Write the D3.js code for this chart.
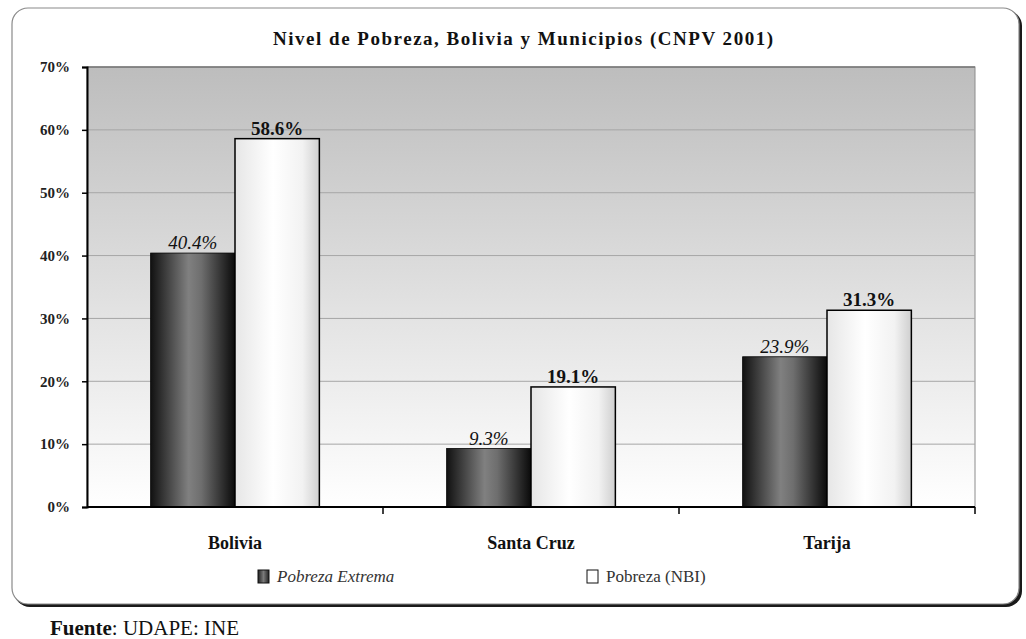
<!DOCTYPE html>
<html>
<head>
<meta charset="utf-8">
<script src="https://cdn.jsdelivr.net/npm/d3@7"></script>
<style>
  html, body { margin: 0; padding: 0; background: #ffffff; }
  svg { display: block; }
  svg text { font-family: "Liberation Serif", "DejaVu Serif", serif !important; fill: #111; }
</style>
</head>
<body>
<svg id="chart" width="1026" height="639"></svg>
<script>
// Poverty levels by territory (CNPV 2001)
const categories = ["Bolivia", "Santa Cruz", "Tarija"];
const seriesNames = ["Pobreza Extrema", "Pobreza (NBI)"];
const pobrezaExtrema = [40.4, 9.3, 23.9];
const pobrezaNBI = [58.6, 19.1, 31.3];
const yTicks = [0, 10, 20, 30, 40, 50, 60, 70];
const titleText = "Nivel de Pobreza, Bolivia y Municipios (CNPV 2001)";
const sourceBold = "Fuente";
const sourceRest = ": UDAPE: INE";

const svg = d3.select("#chart");
const defs = svg.append("defs");

// Gradients: plot background, dark bars, light bars
const bg = defs.append("linearGradient").attr("id", "bgGrad")
  .attr("x1", 0).attr("y1", 0).attr("x2", 0).attr("y2", 1);
bg.append("stop").attr("offset", "0%").attr("stop-color", "#bdbdbd");
bg.append("stop").attr("offset", "55%").attr("stop-color", "#e2e2e2");
bg.append("stop").attr("offset", "100%").attr("stop-color", "#ffffff");

const dg = defs.append("linearGradient").attr("id", "darkGrad")
  .attr("x1", 0).attr("y1", 0).attr("x2", 1).attr("y2", 0);
dg.append("stop").attr("offset", "0%").attr("stop-color", "#111111");
dg.append("stop").attr("offset", "45%").attr("stop-color", "#808080");
dg.append("stop").attr("offset", "60%").attr("stop-color", "#6e6e6e");
dg.append("stop").attr("offset", "100%").attr("stop-color", "#0a0a0a");

const lg = defs.append("linearGradient").attr("id", "lightGrad")
  .attr("x1", 0).attr("y1", 0).attr("x2", 1).attr("y2", 0);
lg.append("stop").attr("offset", "0%").attr("stop-color", "#e6e6e6");
lg.append("stop").attr("offset", "45%").attr("stop-color", "#ffffff");
lg.append("stop").attr("offset", "80%").attr("stop-color", "#f2f2f2");
lg.append("stop").attr("offset", "100%").attr("stop-color", "#cfcfcf");

const sq = defs.append("linearGradient").attr("id", "legDark")
  .attr("x1", 0).attr("y1", 0).attr("x2", 1).attr("y2", 0);
sq.append("stop").attr("offset", "0%").attr("stop-color", "#222");
sq.append("stop").attr("offset", "50%").attr("stop-color", "#7a7a7a");
sq.append("stop").attr("offset", "100%").attr("stop-color", "#222");

// Chart frame with a dark drop shadow on the bottom/right
svg.append("rect").attr("x", 14).attr("y", 10).attr("width", 1008).attr("height", 597)
  .attr("rx", 16).attr("fill", "#1a1a1a");
svg.append("rect").attr("x", 12).attr("y", 8).attr("width", 1007).attr("height", 596)
  .attr("rx", 16).attr("fill", "#ffffff").attr("stroke", "#8a8a8a").attr("stroke-width", 1.2);

const margin = { left: 87, top: 67, right: 975, bottom: 507 };

const x0 = d3.scaleBand().domain(categories).range([margin.left, margin.right])
  .paddingInner(0.43).paddingOuter(0.215);
const x1 = d3.scaleBand().domain(seriesNames).range([0, x0.bandwidth()]);
const y = d3.scaleLinear().domain([0, 70]).range([margin.bottom, margin.top]);

// Plot area
svg.append("rect").attr("x", margin.left).attr("y", margin.top)
  .attr("width", margin.right - margin.left).attr("height", margin.bottom - margin.top)
  .attr("fill", "url(#bgGrad)").attr("stroke", "#8c8c8c").attr("stroke-width", 1);

// Gridlines
svg.append("g").selectAll("line").data(yTicks.filter(d => d > 0)).join("line")
  .attr("x1", margin.left).attr("x2", margin.right)
  .attr("y1", d => y(d)).attr("y2", d => y(d))
  .attr("stroke", d => d === 70 ? "#777" : "#a6a6a6").attr("stroke-width", d => d === 70 ? 1.5 : 1);

// Bars
const data = categories.map((c, i) => ({ cat: c, vals: [pobrezaExtrema[i], pobrezaNBI[i]] }));
const groups = svg.append("g").selectAll("g").data(data).join("g")
  .attr("transform", d => `translate(${x0(d.cat)},0)`);

groups.selectAll("rect").data(d => d.vals.map((v, j) => ({ s: seriesNames[j], v, j }))).join("rect")
  .attr("x", d => x1(d.s))
  .attr("y", d => y(d.v))
  .attr("width", x1.bandwidth())
  .attr("height", d => y(0) - y(d.v))
  .attr("fill", d => d.j === 0 ? "url(#darkGrad)" : "url(#lightGrad)")
  .attr("stroke", "#000").attr("stroke-width", d => d.j === 0 ? 0.8 : 1.5);

// Value labels
groups.selectAll("text.val").data(d => d.vals.map((v, j) => ({ s: seriesNames[j], v, j }))).join("text")
  .attr("class", "val")
  .attr("x", d => x1(d.s) + x1.bandwidth() / 2)
  .attr("y", d => y(d.v) - 4)
  .attr("text-anchor", "middle")
  .attr("font-size", 19)
  .attr("font-style", d => d.j === 0 ? "italic" : "normal")
  .attr("font-weight", d => d.j === 0 ? "normal" : "bold")
  .text(d => d.v.toFixed(1) + "%");

// Y axis
const yAxis = d3.axisLeft(y).tickValues(yTicks).tickFormat(d => d + "%").tickSize(5).tickPadding(12);
const yg = svg.append("g").attr("transform", `translate(${margin.left},0)`).call(yAxis);
yg.select(".domain").attr("stroke", "#000").attr("stroke-width", 2);
yg.selectAll(".tick line").attr("stroke", "#000").attr("stroke-width", 1.5);
yg.selectAll(".tick text")
  .attr("font-size", 15).attr("font-weight", "bold").style("fill", "#222");

// X axis with ticks at category boundaries
const xg = svg.append("g").attr("transform", `translate(0,${margin.bottom})`);
xg.append("line").attr("x1", margin.left).attr("x2", margin.right)
  .attr("stroke", "#000").attr("stroke-width", 2);
xg.selectAll("line.bt").data(categories.map((c, i) => margin.left + (margin.right - margin.left) * (i + 1) / categories.length))
  .join("line").attr("class", "bt")
  .attr("x1", d => d).attr("x2", d => d).attr("y1", 0).attr("y2", 7)
  .attr("stroke", "#000").attr("stroke-width", 1.5);
xg.selectAll("text").data(categories).join("text")
  .attr("x", d => x0(d) + x0.bandwidth() / 2)
  .attr("y", 42)
  .attr("text-anchor", "middle")
  .attr("font-size", 18).attr("font-weight", "bold")
  .text(d => d);

// Title
svg.append("text").attr("x", 523).attr("y", 45).attr("text-anchor", "middle")
  .attr("font-size", 19).attr("font-weight", "bold")
  .attr("textLength", 500).attr("lengthAdjust", "spacing")
  .text(titleText);

// Legend
const legendItems = [
  { name: seriesNames[0], x: 258, fill: "url(#legDark)", italic: true },
  { name: seriesNames[1], x: 587, fill: "#ffffff", italic: false }
];
const leg = svg.append("g").selectAll("g").data(legendItems).join("g")
  .attr("transform", d => `translate(${d.x},570)`);
leg.append("rect").attr("width", 11).attr("height", 13).attr("fill", d => d.fill)
  .attr("stroke", "#111").attr("stroke-width", 1);
leg.append("text").attr("x", 19).attr("y", 12).attr("font-size", 17)
  .attr("font-style", d => d.italic ? "italic" : "normal")
  .style("fill", "#333")
  .text(d => d.name);

// Source note
const src = svg.append("text").attr("x", 50).attr("y", 635).attr("font-size", 21);
src.append("tspan").attr("font-weight", "bold").text(sourceBold);
src.append("tspan").text(sourceRest);
</script>
</body>
</html>
